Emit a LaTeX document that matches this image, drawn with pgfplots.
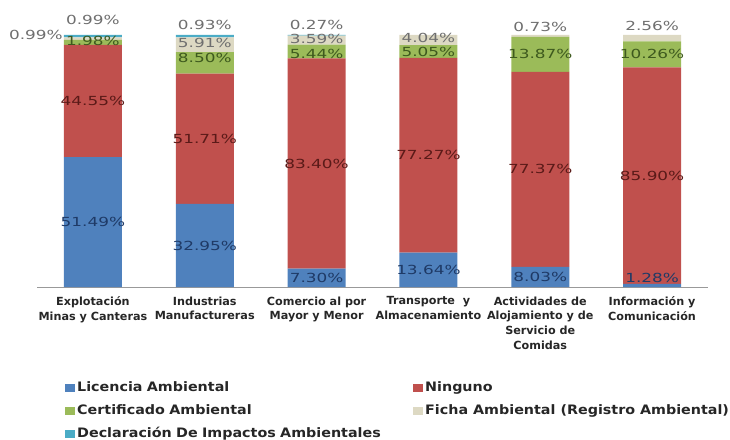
\documentclass[border=0pt]{standalone}
\usepackage{pgfplots}
\pgfplotsset{compat=1.18}
\usepackage{pgfplotstable}
\usepackage{fontspec}
\setmainfont{DejaVu Sans}
\newfontfamily\legfont{DejaVu Sans}[FakeStretch=1.1]
\newfontfamily\lblfam{DejaVu Sans}[FakeStretch=1.35]
\definecolor{cLic}{HTML}{4F81BD}
\definecolor{cNin}{HTML}{C0504D}
\definecolor{cCer}{HTML}{9BBB59}
\definecolor{cFic}{HTML}{DDD9C3}
\definecolor{cDec}{HTML}{4BACC6}
\definecolor{tLicC}{HTML}{1F3A66}
\definecolor{tNinC}{HTML}{5A1A18}
\definecolor{tCerC}{HTML}{3E5A1E}
\definecolor{tGray}{HTML}{6F6F6F}
\newcommand\lblfont{\lblfam\fontsize{12.5}{15}\selectfont}
\newcommand\tickfont{\fontsize{11.2}{14.7}\selectfont\bfseries}
% meta = value;dx;dy
\def\getv#1;#2;#3\relax{#1}
\def\getdx#1;#2;#3\relax{#2}
\def\getdy#1;#2;#3\relax{#3}
\newcommand\lblv{\expandafter\getv\pgfplotspointmeta\relax}
\newcommand\lbldx{\expandafter\getdx\pgfplotspointmeta\relax}
\newcommand\lbldy{\expandafter\getdy\pgfplotspointmeta\relax}
\newcommand\lbltext{\edef\tmpv{\lblv}\ifdim\tmpv pt=0pt\else\tmpv\%\fi}

\pgfplotstableread{
x y m
0 51.49 51.49;0;0
1 32.95 32.95;0;0
2 7.30 7.30;0;0
3 13.64 13.64;0;0
4 8.03 8.03;0;0
5 1.28 1.28;0;7
}\tLic
\pgfplotstableread{
x y m
0 44.55 44.55;0;0
1 51.71 51.71;0;0
2 83.40 83.40;0;0
3 77.27 77.27;0;0
4 77.37 77.37;0;0
5 85.90 85.90;0;0
}\tNin
\pgfplotstableread{
x y m
0 1.98 1.98;0;2
1 8.50 8.50;0;5
2 5.44 5.44;0;-2
3 5.05 5.05;0;0
4 13.87 13.87;0;0
5 10.26 10.26;0;0
}\tCer
\pgfplotstableread{
x y m
0 0.99 0.99;-57;4
1 5.91 5.91;0;2
2 3.59 3.59;0;1
3 4.04 4.04;0;2
4 0.73 0.73;0;9
5 2.56 2.56;0;12
}\tFic
\pgfplotstableread{
x y m
0 0.99 0.99;0;16
1 0.93 0.93;0;11
2 0.27 0.27;0;10
3 0 0;0;0
4 0 0;0;0
5 0 0;0;0
}\tDec

\pgfplotsset{
  lbls/.style={
    point meta=explicit symbolic,
    nodes near coords={\lbltext},
    every node near coord/.append style={anchor=center, font=\lblfont, inner sep=0pt,
       xshift={(\lbldx)*1pt}, yshift={(\lbldy)*1pt}, text=#1},
  }
}

\begin{document}
\begin{tikzpicture}
\begin{axis}[
  at={(37pt,152pt)}, anchor=south west,
  scale only axis, width=671pt, height=252pt,
  xmin=-0.5, xmax=5.5, ymin=0, ymax=100,
  clip=false,
  ybar stacked, bar width=58pt,
  axis x line*=bottom, axis y line=none,
  x axis line style={draw=black!40, line width=0.9pt},
  xtick={0,1,2,3,4,5},
  xticklabels={{Explotación\\Minas y Canteras},{Industrias\\Manufactureras},{Comercio al por\\Mayor y Menor},{Transporte\ \ y\\Almacenamiento},{Actividades de\\Alojamiento y de\\Servicio de\\Comidas},{Información y\\Comunicación}},
  xtick style={draw=none},
  xticklabel style={align=center, font=\tickfont, text=black!85, yshift=-6pt},
  legend columns=2,
  legend image code/.code={\fill[#1] (0pt,-4pt) rectangle (10pt,4pt);},
  legend style={at={(axis description cs:0,0)}, anchor=north west, xshift=28pt, yshift=-93pt,
     draw=none, fill=none, inner sep=0pt, row sep=7pt,
     font=\legfont\bfseries\fontsize{13}{14}\selectfont, text=black!85,
     cells={anchor=west},
     nodes={text height=9pt, text depth=3pt, inner sep=2pt},
     /tikz/column 2/.style={text width=334pt}},
]
\addplot[fill=cLic, draw=none, lbls=tLicC] table[x=x,y=y,meta=m]{\tLic};
\addlegendentry{Licencia Ambiental}
\addplot[fill=cNin, draw=none, lbls=tNinC] table[x=x,y=y,meta=m]{\tNin};
\addlegendentry{Ninguno}
\addplot[fill=cCer, draw=none, lbls=tCerC] table[x=x,y=y,meta=m]{\tCer};
\addlegendentry{Certificado Ambiental}
\addplot[fill=cFic, draw=none, lbls=tGray] table[x=x,y=y,meta=m]{\tFic};
\addlegendentry{Ficha Ambiental (Registro Ambiental)}
\addplot[fill=cDec, draw=none, lbls=tGray] table[x=x,y=y,meta=m]{\tDec};
\addlegendentry{Declaración De Impactos Ambientales}
\end{axis}
\pgfresetboundingbox
\path (0pt,0pt) rectangle (730pt,439pt);
\end{tikzpicture}
\end{document}
